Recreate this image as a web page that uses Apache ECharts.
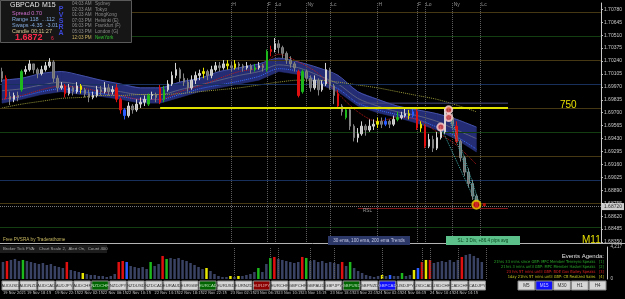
<!DOCTYPE html>
<html lang="en">
<head>
<meta charset="UTF-8">
<title>GBPCAD M15</title>
<script src="https://cdn.jsdelivr.net/npm/echarts@6/dist/echarts.min.js"></script>
<style>
  html, body { margin: 0; padding: 0; background: #000; }
  #main { width: 625px; height: 299px; }
</style>
</head>
<body>
<div id="main"></div>
<script>
// candles: [open, close, low, high]
const candles = [
  [1.7013,1.7006,1.7002,1.7017],[1.7006,1.6987,1.6984,1.7009],[1.6987,1.6984,1.6978,1.6992],[1.6984,1.6988,1.6981,1.6991],
  [1.6988,1.6986,1.6982,1.6992],[1.6994,1.7013,1.6992,1.7015],[1.7013,1.7015,1.7010,1.7019],[1.7015,1.7021,1.7013,1.7025],
  [1.7021,1.7015,1.7011,1.7021],[1.7015,1.7011,1.7006,1.7017],[1.7011,1.7015,1.7009,1.7019],[1.7015,1.7019,1.7013,1.7023],
  [1.7019,1.7023,1.7017,1.7027],[1.7023,1.7006,1.7002,1.7025],[1.7006,1.6996,1.6992,1.7009],[1.6996,1.6998,1.6994,1.7002],
  [1.6998,1.6990,1.6986,1.7000],[1.6990,1.6996,1.6988,1.7000],[1.6996,1.6992,1.6988,1.6998],[1.6992,1.6998,1.6990,1.7002],
  [1.6998,1.6994,1.6990,1.7000],[1.6994,1.6990,1.6986,1.6996],[1.6990,1.6986,1.6981,1.6994],[1.6986,1.6988,1.6984,1.6992],
  [1.6988,1.6994,1.6986,1.6998],[1.6994,1.6992,1.6988,1.6998],[1.6992,1.6996,1.6990,1.7002],[1.6996,1.6992,1.6988,1.7000],
  [1.6992,1.6994,1.6989,1.6998],[1.6996,1.6984,1.6981,1.7000],[1.6984,1.6973,1.6969,1.6986],[1.6973,1.6967,1.6963,1.6975],
  [1.6967,1.6977,1.6965,1.6981],[1.6977,1.6973,1.6969,1.6979],[1.6973,1.6979,1.6971,1.6984],[1.6979,1.6981,1.6975,1.6986],
  [1.6981,1.6984,1.6977,1.6988],[1.6979,1.6988,1.6977,1.6990],[1.6988,1.6989,1.6984,1.6992],[1.6989,1.6986,1.6981,1.6991],
  [1.6996,1.6981,1.6979,1.6999],[1.6984,1.6994,1.6981,1.6998],[1.6994,1.7000,1.6992,1.7004],[1.7000,1.7009,1.6998,1.7013],
  [1.7009,1.7015,1.7006,1.7022],[1.7015,1.7006,1.7002,1.7017],[1.7006,1.7002,1.6998,1.7011],[1.7002,1.6996,1.6992,1.7006],
  [1.6996,1.7004,1.6994,1.7009],[1.7004,1.7009,1.7000,1.7013],[1.7009,1.7011,1.7004,1.7015],[1.7011,1.7013,1.7006,1.7017],
  [1.7013,1.7009,1.7004,1.7015],[1.7009,1.7015,1.7006,1.7019],[1.7015,1.7019,1.7013,1.7023],[1.7019,1.7017,1.7013,1.7023],
  [1.7017,1.7021,1.7015,1.7025],[1.7021,1.7019,1.7015,1.7025],[1.7019,1.7017,1.7013,1.7023],[1.7017,1.7021,1.7015,1.7025],
  [1.7021,1.7019,1.7015,1.7023],[1.7019,1.7017,1.7013,1.7021],[1.7017,1.7019,1.7015,1.7023],[1.7019,1.7015,1.7011,1.7021],
  [1.7015,1.7017,1.7013,1.7021],[1.7017,1.7019,1.7015,1.7023],[1.7019,1.7017,1.7013,1.7021],[1.7015,1.7034,1.7013,1.7036],
  [1.7034,1.7036,1.7029,1.7040],[1.7036,1.7042,1.7033,1.7048],[1.7042,1.7038,1.7032,1.7046],[1.7038,1.7032,1.7027,1.7040],
  [1.7032,1.7025,1.7021,1.7034],[1.7025,1.7021,1.7017,1.7029],[1.7021,1.7017,1.7013,1.7023],[1.7013,1.6988,1.6986,1.7015],
  [1.6992,1.7013,1.6990,1.7015],[1.7013,1.7006,1.7002,1.7015],[1.7006,1.6996,1.6992,1.7009],[1.6996,1.7004,1.6994,1.7009],
  [1.7004,1.6994,1.6988,1.7006],[1.6994,1.7000,1.6992,1.7004],[1.7000,1.7015,1.6998,1.7022],[1.7015,1.6998,1.6994,1.7017],
  [1.6998,1.6988,1.6979,1.7000],[1.6990,1.6977,1.6975,1.6994],[1.6977,1.6971,1.6967,1.6979],[1.6965,1.6973,1.6963,1.6975],
  [1.6973,1.6956,1.6952,1.6975],[1.6956,1.6944,1.6940,1.6958],[1.6944,1.6948,1.6939,1.6954],[1.6948,1.6956,1.6946,1.6961],
  [1.6956,1.6952,1.6946,1.6958],[1.6952,1.6956,1.6950,1.6963],[1.6956,1.6958,1.6952,1.6963],[1.6958,1.6961,1.6954,1.6965],
  [1.6961,1.6958,1.6954,1.6965],[1.6958,1.6961,1.6956,1.6965],[1.6961,1.6958,1.6954,1.6963],[1.6958,1.6963,1.6956,1.6967],
  [1.6963,1.6965,1.6961,1.6971],[1.6965,1.6967,1.6963,1.6971],[1.6967,1.6969,1.6965,1.6975],[1.6969,1.6967,1.6963,1.6973],
  [1.6967,1.6971,1.6965,1.6975],[1.6971,1.6954,1.6952,1.6975],[1.6954,1.6958,1.6950,1.6961],[1.6956,1.6935,1.6933,1.6958],
  [1.6935,1.6942,1.6933,1.6948],[1.6942,1.6933,1.6929,1.6946],[1.6933,1.6944,1.6931,1.6950],[1.6944,1.6950,1.6942,1.6956],
  [1.6950,1.6971,1.6948,1.6975],[1.6971,1.6965,1.6961,1.6975],[1.6965,1.6958,1.6954,1.6969],[1.6956,1.6940,1.6938,1.6961],
  [1.6940,1.6923,1.6919,1.6942],[1.6923,1.6908,1.6904,1.6925],[1.6908,1.6896,1.6892,1.6912],[1.6896,1.6883,1.6879,1.6900],
  [1.6883,1.6872,1.6871,1.6885]
];

const volumes = [
  2244,2376,2508,2640,2376,2508,2376,2244,2112,1980,
  2112,1848,1980,1716,1584,1452,2244,1188,1056,924,
  792,660,528,528,396,396,264,396,660,2244,
  2376,2244,1716,1584,1452,1584,1320,2244,1716,1980,
  3036,2640,2772,2640,2772,2508,2376,2112,1848,1584,
  1320,1452,1056,660,396,264,264,396,264,396,
  396,528,660,924,1452,924,1980,2772,2904,2640,
  2508,2376,2244,2112,2244,2904,2772,2376,2508,2244,
  2376,2112,2244,2112,1980,2244,1716,2244,1452,1056,
  792,528,396,264,396,528,396,528,396,396,
  792,396,528,1188,1452,2244,2508,2508,2112,2244,
  2376,2244,2508,2244,2508,2904,3168,3300,3036,2772,
  2244
];

// PVSRA candle classes
const climaxBull = [5, 37, 41, 64, 67, 76, 87, 100];
const climaxBear = [1, 16, 29, 30, 40, 68, 75, 85, 105, 107, 115];
const risingBull = [31, 97, 104];
const yellowBars = [20, 51, 57, 59, 95, 103, 106];

// ema ribbon, sampled every 5 candles
const bandIdx = [0,5,10,15,20,25,30,35,40,45,50,55,60,65,70,75,80,85,90,95,100,105,110,115,120];
const bandTop = [1.7004,1.7006,1.7011,1.7013,1.7009,1.7004,1.7000,1.6996,1.6996,1.7002,1.7006,1.7013,1.7017,1.7021,1.7027,1.7023,1.7017,1.7009,1.6992,1.6984,1.6977,1.6973,1.6969,1.6963,1.6955];
const bandBot = [1.6980,1.6984,1.6989,1.6992,1.6989,1.6987,1.6984,1.6980,1.6980,1.6986,1.6992,1.6996,1.7000,1.7004,1.7013,1.7010,1.7000,1.6992,1.6977,1.6970,1.6965,1.6959,1.6952,1.6942,1.6929];
const emaMid  = [1.6993,1.6995,1.6999,1.7002,1.6999,1.6996,1.6992,1.6989,1.6989,1.6994,1.6999,1.7004,1.7009,1.7013,1.7020,1.7017,1.7009,1.7000,1.6985,1.6977,1.6971,1.6967,1.6961,1.6952,1.6943];
const emaBlue = [1.6984,1.6987,1.6992,1.6995,1.6992,1.6990,1.6987,1.6984,1.6984,1.6989,1.6995,1.6999,1.7003,1.7008,1.7016,1.7013,1.7003,1.6995,1.6980,1.6973,1.6968,1.6963,1.6955,1.6945,1.6932];
const emaRed  = [1.6984,1.6988,1.6994,1.6998,1.6996,1.6992,1.6988,1.6984,1.6984,1.6992,1.6998,1.7006,1.7013,1.7017,1.7031,1.7023,1.7011,1.6990,1.6971,1.6961,1.6965,1.6963,1.6950,1.6936,1.6916];
const ema200  = [1.6975,1.6979,1.6982,1.6985,1.6986,1.6988,1.6988,1.6989,1.6989,1.6990,1.6992,1.6994,1.6996,1.6999,1.7002,1.7004,1.7004,1.7002,1.6999,1.6996,1.6992,1.6988,1.6984,1.6978,1.6971];

const levelPrices = [1.7075, 1.7050, 1.7025, 1.7000, 1.6975, 1.6950, 1.6925, 1.6900, 1.6875, 1.6850];
const yellowLevel = 1.6975;
const bidPrice = 1.68720;
const rangeTop = 1.6980;
const rangeBot = 1.6870;

const sessionIdx = [57.5, 67.25, 69, 76.5, 82.75, 95, 104.5, 106.5, 114, 120.5];
const sessionNames = ['H', 'F', 'Lo', 'Ny', 'Lc', 'H', 'F', 'Lo', 'Ny', 'Lc'];

const circleMarks = [[113, 1.6973], [112.5, 1.6965], [111, 1.6955]];
const fanLines = [
  [[111, 1.6955], [120, 1.6875]],
  [[112.5, 1.6965], [119.5, 1.6878]],
  [[113, 1.6973], [120.5, 1.6872]]
];
const lastMark = [120, 1.6874];

const timeLabels = ['19 Nov 2021','19 Nov 18:15','19 Nov 22:15','22 Nov 02:15','22 Nov 06:15','22 Nov 10:15','22 Nov 14:15',
  '22 Nov 18:15','22 Nov 22:15','23 Nov 02:15','23 Nov 06:15','23 Nov 10:15','23 Nov 14:15','23 Nov 18:15','23 Nov 22:15',
  '24 Nov 02:15','24 Nov 06:15','24 Nov 10:15','24 Nov 14:15','24 Nov 18:15'];
const labelIdx = [0,6,13,19,25,31,38,44,50,57,63,69,75,82,88,94,100,107,113,119];

const pairButtons = ['AUDUSD','AUDNZD','AUDCAD','AUDJPY','AUDCHF','NZDCHF','NZDJPY','NZDUSD','NZDCAD','EURAUD','EURGBP',
  'EURCAD','EURUSD','EURNZD','EURJPY','EURCHF','GBPCHF','GBPAUD','GBPJPY','GBPUSD','GBPNZD','GBPCAD','USDJPY','USDCAD',
  'USDCHF','CADCHF','CADJPY'];
const tfButtons = ['M5', 'M15', 'M30', 'H1', 'H4'];

const sessTimes = ['04:03 AM','02:03 AM','01:03 AM','07:03 PM','06:03 PM','05:03 PM','12:03 PM'];
const sessCities = ['Sydney','Tokyo','HongKong','Helsinki (E)','Frankfurt (F)','London (G)','NewYork'];
const events = [
  '21hrs 33 mins since GBP: MPC Member Tenreyro Speaks   [1]',
  '21hrs 3 mins until GBP: MPC Member Haskel Speaks   [2]',
  '23 hrs 57 mins until GBP: BOE Gov Bailey Speaks   [3]',
  '1day 21hrs 57 mins until GBP: CB Realized Sales   [4]'
];

const N_CAT = 152;
const FONT = '"Liberation Sans", Arial, sans-serif';
const NARROW = '"Liberation Sans Narrow", "DejaVu Sans Condensed", "Liberation Sans", sans-serif';
const cats = [];
for (let i = 0; i < N_CAT; i++) {
  const k = labelIdx.indexOf(i);
  cats.push(k >= 0 ? timeLabels[k] : 'c' + i);
}

function barColor(i) {
  if (climaxBull.includes(i)) return '#1cb81c';
  if (climaxBear.includes(i)) return '#e01010';
  if (risingBull.includes(i)) return '#2a5cff';
  if (yellowBars.includes(i)) return '#e6e600';
  return null;
}

function levelColor(p) {
  const pips = Math.round(p * 10000) % 100;
  if (pips === 0) return '#17305c';
  if (pips === 50) return '#123e12';
  return '#463812';
}

const candleData = candles.map((c, i) => {
  const col = barColor(i);
  if (!col) return c;
  return { value: c, itemStyle: { color: col, color0: col, borderColor: col, borderColor0: col } };
});
const volData = volumes.map((v, i) => ({ value: v, itemStyle: { color: barColor(i) || '#394262' } }));

function pairs(vals) { return bandIdx.map((x, k) => [x, vals[k]]); }

function txt(x, y, text, fill, size, align, weight, family) {
  return { type: 'text', x: x, y: y, silent: true, z: 100,
    style: { text: text, fill: fill, font: (weight || 'normal') + ' ' + size + 'px ' + (family || FONT),
      textAlign: align || 'left', textVerticalAlign: 'middle' } };
}
function box(x, y, w, h, fill, stroke) {
  return { type: 'rect', silent: true, z: 99, shape: { x: x, y: y, width: w, height: h },
    style: { fill: fill, stroke: stroke || null, lineWidth: 1 } };
}

const graphics = [];
// info panel
graphics.push(box(0.5, 0.5, 131, 42, '#161616', '#5a5a5a'));
graphics.push(txt(10, 5, 'GBPCAD', '#e6e6e6', 7));
graphics.push(txt(42, 5, 'M15', '#e6e6e6', 7));
graphics.push(txt(12, 13, 'Spread 0.70', '#d070d0', 5.5));
graphics.push(txt(12, 19, 'Range 118  ...112', '#84acdf', 5.5));
graphics.push(txt(12, 25, 'Swaps -4.35  -3.01', '#84acdf', 5.5));
graphics.push(txt(12, 31, 'Candle 00:11:27', '#d8c890', 5.5));
graphics.push(txt(15, 38, '1.6872', '#ff2a4a', 9, 'left', 'bold'));
graphics.push(txt(51, 39, '6', '#ff2a4a', 5));
['P', 'V', 'S', 'R', 'A'].forEach((c, k) => graphics.push(txt(61, 9 + k * 6, c, '#3c48d8', 7, 'center', 'bold')));
sessTimes.forEach((t, k) => {
  const last = k === sessTimes.length - 1;
  const y = 4 + k * 5.55;
  graphics.push(txt(72, y, t, last ? '#c8b060' : '#8c8c8c', 4.6));
  graphics.push(txt(95, y, sessCities[k], last ? '#30c030' : '#8c8c8c', 4.6));
});

// lower captions
graphics.push(txt(3, 240, 'Free PVSRA by Traderathome', '#c8b860', 4.6));
graphics.push(box(328, 236, 82, 9, '#2c3868'));
graphics.push(txt(369, 240.5, '30 ema, 100 ema, 200 ema Trends', '#c4c8e4', 4.6, 'center'));
graphics.push(box(446, 236, 74, 9, '#5cc08a'));
graphics.push(txt(483, 240.5, 'SL: 3 Div, +86.4 pips avg', '#0c4a20', 4.6, 'center'));
graphics.push(txt(582, 240, 'M11', '#e8e000', 10));
graphics.push(txt(560, 105, '750', '#e8e000', 10));
graphics.push(txt(363, 211, 'RSL', '#9a9a9a', 4.6));
graphics.push({ type: 'line', silent: true, z: 98, shape: { x1: 0, y1: 243.5, x2: 625, y2: 243.5 }, style: { stroke: '#b4b4b4', lineWidth: 1 } });

// volume header and events
graphics.push(box(0, 245, 107, 8, '#1c1c1c'));
graphics.push(txt(3, 249, 'Broker Tick PVA:   Chart Scale 2,  Alert On,  Count 400', '#a8a8a8', 4.3));
graphics.push(txt(604, 256, 'Events Agenda:', '#e0e0e0', 6, 'right'));
const evColors = ['#2aa82a', '#2aa82a', '#e02020', '#c8c820'];
events.forEach((e, k) => graphics.push(txt(604, 262 + k * 5, e, evColors[k], 4, 'right', 'normal', NARROW)));

// buttons
const pairHi = { NZDCHF: ['#006400', '#b8e0b8'], EURCAD: ['#006400', '#b8e0b8'], EURJPY: ['#8b0000', '#e0b0b0'],
  GBPUSD: ['#006400', '#b8e0b8'], GBPCAD: ['#1010ff', '#c8c8ff'] };
pairButtons.forEach((b, k) => {
  const x = 2 + k * 17.96;
  const hi = pairHi[b];
  graphics.push(box(x, 281, 16.5, 9, hi ? hi[0] : '#d6d6d6', '#8a8a8a'));
  graphics.push(txt(x + 8.25, 285.5, b, hi ? hi[1] : '#303030', 4.3, 'center'));
});
tfButtons.forEach((b, k) => {
  const x = 518 + k * 17.8;
  const hi = b === 'M15';
  graphics.push(box(x, 281, 16.8, 9, hi ? '#1010ff' : '#d6d6d6', '#8a8a8a'));
  graphics.push(txt(x + 8.4, 285.5, b, hi ? '#c8c8ff' : '#303030', 4.6, 'center'));
});

const chart = echarts.init(document.getElementById('main'), null, { renderer: 'canvas' });

const sessionLines = sessionIdx.map(v => ({ xAxis: v }));
const plainMark = { silent: true, symbol: ['none', 'none'], animation: false, precision: 5, label: { show: false } };

const option = {
  backgroundColor: '#000',
  animation: false,
  textStyle: { fontFamily: FONT },
  grid: [
    { left: 0, right: 17, top: 3, height: 239 },
    { left: 0, right: 17, top: 247, height: 32 }
  ],
  xAxis: [
    { type: 'category', data: cats, gridIndex: 0, show: false, boundaryGap: true },
    { type: 'category', data: cats, gridIndex: 1, boundaryGap: true,
      axisLine: { show: false }, axisTick: { show: false },
      axisLabel: { interval: (i) => labelIdx.includes(i), color: '#c4c4c4', fontSize: 4, fontFamily: NARROW,
        align: 'left', margin: 12, formatter: (v) => v } }
  ],
  yAxis: [
    { type: 'value', gridIndex: 0, position: 'right', min: 1.68350, max: 1.70846, interval: 0.00135,
      splitLine: { show: false },
      axisLine: { show: true, lineStyle: { color: '#c8c8c8' } },
      axisTick: { show: true, length: 2, lineStyle: { color: '#c8c8c8' } },
      axisLabel: { color: '#c8c8c8', fontSize: 5, margin: 3, showMaxLabel: false, formatter: (v) => v.toFixed(5) } },
    { type: 'value', gridIndex: 1, position: 'right', min: 0, max: 4217, interval: 4217,
      splitLine: { show: false },
      axisLine: { show: true, lineStyle: { color: '#c8c8c8' } },
      axisTick: { show: false },
      axisLabel: { color: '#c8c8c8', fontSize: 4.6, margin: 3 } }
  ],
  series: [
    // round-number levels
    { type: 'line', name: 'levels', data: [], z: 0,
      markLine: Object.assign({}, plainMark, {
        data: levelPrices.map(p => ({ yAxis: p, lineStyle: { color: levelColor(p), type: 'solid', width: 1 } })) }) },
    // session separators
    { type: 'line', name: 'sessions', data: [], z: 0,
      markLine: Object.assign({}, plainMark, { lineStyle: { color: '#5c5c5c', type: 'dotted', width: 1 }, data: sessionLines }) },
    {
      type: 'custom', name: 'ribbon', xAxisIndex: 0, yAxisIndex: 0, z: 1,
      data: bandIdx.map((x, k) => [x, bandTop[k], bandBot[k]]),
      encode: { x: 0, y: [1, 2] },
      renderItem: function (params, api) {
        const k = params.dataIndex;
        if (k >= bandIdx.length - 1) return null;
        const a1 = api.coord([bandIdx[k], bandTop[k]]);
        const a2 = api.coord([bandIdx[k + 1], bandTop[k + 1]]);
        const b1 = api.coord([bandIdx[k], bandBot[k]]);
        const b2 = api.coord([bandIdx[k + 1], bandBot[k + 1]]);
        return { type: 'polygon', shape: { points: [a1, a2, b2, b1] },
          style: { fill: '#283280', stroke: '#283280', lineWidth: 0.5, opacity: 0.9 } };
      }
    },
    { type: 'line', data: pairs(bandTop), symbol: 'none', smooth: 0.3, z: 2, lineStyle: { color: '#4450a8', width: 1 } },
    { type: 'line', data: pairs(emaMid), symbol: 'none', smooth: 0.3, z: 2, lineStyle: { color: '#5a5f80', width: 1 } },
    { type: 'line', data: pairs(emaBlue), symbol: 'none', smooth: 0.3, z: 2, lineStyle: { color: '#3a6cff', width: 1, type: 'dotted' } },
    { type: 'line', data: pairs(emaRed), symbol: 'none', smooth: 0.3, z: 3, lineStyle: { color: '#c01818', width: 1, type: 'dotted' } },
    { type: 'line', data: pairs(ema200), symbol: 'none', smooth: 0.3, z: 3, lineStyle: { color: '#9a9a3a', width: 1, type: 'dotted' } },
    { type: 'line', data: [[90, rangeTop], [128, rangeTop]], symbol: 'none', z: 3, lineStyle: { color: '#474a80', width: 1 } },
    { type: 'line', data: [[90, rangeBot], [128, rangeBot]], symbol: 'none', z: 3, lineStyle: { color: '#801818', width: 1 } },
    {
      type: 'candlestick', name: 'GBPCAD', xAxisIndex: 0, yAxisIndex: 0, z: 5,
      barWidth: 2,
      data: candleData,
      itemStyle: { color: '#bcbcbc', color0: '#707070', borderColor: '#d4d4d4', borderColor0: '#828282', borderWidth: 1 }
    },
    // bid line
    { type: 'line', name: 'bid', data: [], z: 6,
      markLine: Object.assign({}, plainMark, { lineStyle: { color: '#7a7a7a', type: 'dotted', width: 1 },
        data: [{ yAxis: bidPrice }] }) },
    // bid price tag on the axis
    { type: 'scatter', name: 'bidTag', z: 20, symbolSize: 0, clip: false,
      data: [[N_CAT - 1, bidPrice]],
      label: { show: true, position: 'right', distance: 3, formatter: (p) => p.value[1].toFixed(5),
        backgroundColor: '#ffffff', color: '#000', fontSize: 5, padding: [1, 2] } },
    { type: 'line', data: [[40, yellowLevel], [128, yellowLevel]], symbol: 'none', z: 6, lineStyle: { color: '#e0e000', width: 2 } },
    ...fanLines.map(f => ({ type: 'line', data: f, symbol: 'none', z: 6, lineStyle: { color: '#3ea8a8', width: 1, type: 'dotted' } })),
    { type: 'scatter', data: circleMarks, symbol: 'circle', symbolSize: 7, z: 8,
      itemStyle: { color: '#e04848', borderColor: '#f8d0d0', borderWidth: 2 } },
    { type: 'scatter', data: [lastMark], symbol: 'circle', symbolSize: 8, z: 8,
      itemStyle: { color: '#e01010', borderColor: '#e8d000', borderWidth: 2 } },
    { type: 'scatter', data: [[121.5, lastMark[1]]], symbol: 'rect', symbolSize: 3, z: 8, itemStyle: { color: '#e01010' } },
    { type: 'scatter', z: 8, symbolSize: 0,
      data: sessionIdx.map((v, k) => ({ value: [v, 1.7083], name: sessionNames[k] })),
      label: { show: true, position: 'right', distance: 1, formatter: '{b}', color: '#b4b4b4', fontSize: 5 } },
    {
      type: 'bar', name: 'volume', xAxisIndex: 1, yAxisIndex: 1, barWidth: 2.5, data: volData,
      markLine: Object.assign({}, plainMark, { lineStyle: { color: '#5c5c5c', type: 'dotted', width: 1 }, data: sessionLines })
    }
  ],
  graphic: graphics
};

chart.setOption(option);
</script>
</body>
</html>
